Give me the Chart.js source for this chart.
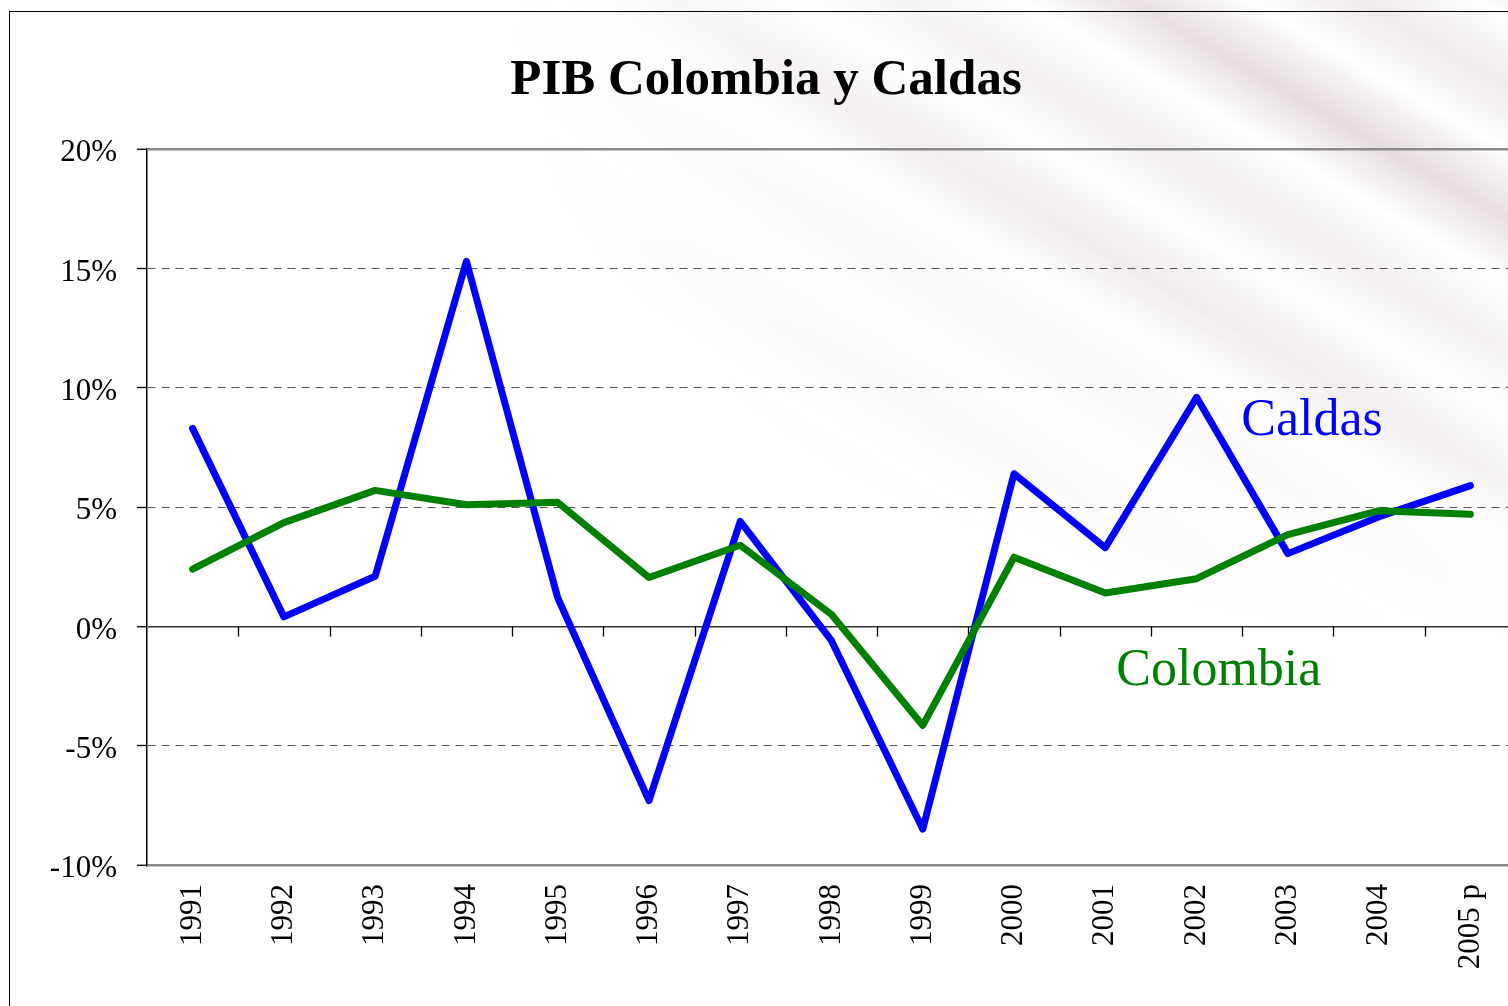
<!DOCTYPE html>
<html>
<head>
<meta charset="utf-8">
<script src="https://cdn.jsdelivr.net/npm/chart.js@4"></script>
<style>
  html, body { margin: 0; padding: 0; overflow: hidden; }
  body {
    width: 1508px; height: 1006px; position: relative;
    background:
      radial-gradient(ellipse 1000px 640px at 100% 0%, rgba(255,255,255,0) 20%, #fff 100%),
      repeating-linear-gradient(30deg, #fff 0px, #e3d8da 55px, #fff 115px, #efe9ea 170px, #fff 230px);
  }
  #frame { position: absolute; left: 9px; top: 11px; width: 1600px; height: 1100px;
           border-left: 1.5px solid #000; border-top: 1.5px solid #000; }
  #myChart { position: absolute; left: 0; top: 0; }
</style>
</head>
<body>
<div id="frame"></div>
<canvas id="myChart" width="1520" height="1006"></canvas>
<script>
// PIB growth, % per year
var years = ['1991', '1992', '1993', '1994', '1995', '1996', '1997', '1998',
             '1999', '2000', '2001', '2002', '2003', '2004', '2005 p'];
var caldas = [8.3, 0.4, 2.1, 15.3, 1.2, -7.3, 4.4, -0.6, -8.5, 6.4, 3.3, 9.6, 3.05, 4.6, 5.9];
var colombia = [2.4, 4.35, 5.7, 5.1, 5.2, 2.05, 3.4, 0.5, -4.15, 2.9, 1.4, 2.0, 3.85, 4.85, 4.7];
var yTicks = [-10, -5, 0, 5, 10, 15, 20];

// series names written on the chart, anchored at (category index, value)
var tagNames = ['Caldas', 'Colombia'];
var tagColors = ['#0000ff', '#008000'];
var tagIndex = [11.49, 10.12];
var tagValue = [8.03, -2.47];

var serif = "'Times New Roman', 'Liberation Serif', serif";

// small ticks hanging under the zero line at category boundaries
var zeroTicks = {
  id: 'zeroTicks',
  beforeDatasetsDraw: function(chart) {
    var c = chart.ctx, x = chart.scales.x, y = chart.scales.y;
    var y0 = Math.round(y.getPixelForValue(0)) + 0.5;
    c.save();
    c.strokeStyle = '#000';
    c.lineWidth = 1.3;
    c.beginPath();
    for (var i = 1; i < years.length; i++) {
      var px = Math.round(x.getPixelForValue(i - 0.5)) + 0.5;
      c.moveTo(px, y0);
      c.lineTo(px, y0 + 10);
    }
    c.stroke();
    c.restore();
  }
};

var seriesTags = {
  id: 'seriesTags',
  afterDatasetsDraw: function(chart) {
    var c = chart.ctx, x = chart.scales.x, y = chart.scales.y;
    c.save();
    c.font = '52px ' + serif;
    c.textAlign = 'left';
    c.textBaseline = 'alphabetic';
    tagNames.forEach(function(name, i) {
      c.fillStyle = tagColors[i];
      c.fillText(name, x.getPixelForValue(tagIndex[i]), y.getPixelForValue(tagValue[i]));
    });
    c.restore();
  }
};

var ctx = document.getElementById('myChart').getContext('2d');
var chart = new Chart(ctx, {
  type: 'line',
  data: {
    labels: years,
    datasets: [{
      label: 'Caldas',
      data: caldas,
      borderColor: '#0000ff',
      backgroundColor: '#0000ff',
      borderWidth: 7,
      order: 1
    }, {
      label: 'Colombia',
      data: colombia,
      borderColor: '#008000',
      backgroundColor: '#008000',
      borderWidth: 7,
      order: 0
    }]
  },
  options: {
    responsive: false,
    animation: false,
    elements: {
      point: { radius: 0, hoverRadius: 0 },
      line: { tension: 0, borderCapStyle: 'round', borderJoinStyle: 'round', fill: false }
    },
    layout: { padding: { left: 16, right: 4, top: 0, bottom: 0 } },
    plugins: {
      legend: { display: false },
      tooltip: { enabled: false },
      title: {
        display: true,
        text: 'PIB Colombia y Caldas',
        color: '#000',
        font: { family: serif, size: 51, weight: 'bold' },
        padding: { top: 50, bottom: 38 }
      }
    },
    scales: {
      x: {
        offset: true,
        grid: { display: false, drawTicks: false },
        border: { display: false },
        ticks: {
          color: '#000',
          font: { family: serif, size: 31 },
          minRotation: 90,
          maxRotation: 90,
          padding: 19,
          autoSkip: false
        },
        afterFit: function(s) {
          s.height = 141;
          s.paddingLeft = 0;
          s.paddingRight = 0;
        }
      },
      y: {
        min: -10,
        max: 20,
        afterBuildTicks: function(s) {
          s.ticks = yTicks.map(function(v) { return { value: v }; });
        },
        grid: {
          color: function(c) {
            var v = c.tick && c.tick.value;
            if (v === 20 || v === -10) return '#8a8a8a';
            if (v === 0) return '#333';
            return '#555';
          },
          lineWidth: function(c) {
            var v = c.tick && c.tick.value;
            if (v === 20 || v === -10) return 2.5;
            if (v === 0) return 1.5;
            return 1;
          },
          tickColor: '#000',
          tickLength: 10,
          tickWidth: 1.3
        },
        border: {
          display: true,
          color: '#000',
          width: 1.5,
          dash: function(c) {
            var v = c.tick && c.tick.value;
            if (v === undefined || v === 20 || v === -10 || v === 0) return [];
            return [8, 6];
          }
        },
        ticks: {
          color: '#000',
          font: { family: serif, size: 31 },
          padding: 20,
          labelOffset: 4,
          callback: function(v) { return v + '%'; }
        },
        afterFit: function(s) { s.width = 131; }
      }
    }
  },
  plugins: [zeroTicks, seriesTags]
});
</script>
</body>
</html>
